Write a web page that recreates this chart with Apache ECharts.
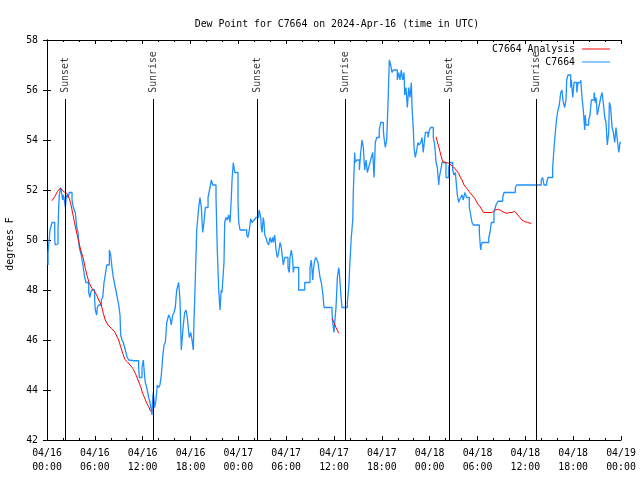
<!DOCTYPE html>
<html><head><meta charset="utf-8">
<script src="https://cdn.jsdelivr.net/npm/echarts@6/dist/echarts.min.js"></script>
<style>html,body{margin:0;padding:0;background:#fff}#c{width:640px;height:480px}</style>
</head><body><div id="c"></div>
<script>
// Hours since 2024-04-16 00:00 UTC
const obsHours = [0.13,0.38,0.63,0.72,0.97,1.04,1.22,1.38,1.47,1.54,1.72,1.88,1.97,2.04,2.13,2.30,2.38,2.47,2.63,2.80,3.14,3.30,3.55,3.73,3.89,4.05,4.30,4.55,4.73,4.89,5.23,5.39,5.48,5.64,5.81,5.98,6.06,6.23,6.31,6.49,6.81,6.99,7.15,7.31,7.49,7.82,7.99,8.15,8.32,8.57,8.82,8.99,9.16,9.24,9.41,9.57,9.82,10.07,10.25,10.41,10.91,11.50,11.58,11.75,11.92,12.08,12.26,12.33,12.51,12.76,12.92,13.08,13.17,13.26,13.33,13.51,13.67,13.84,14.01,14.17,14.34,14.51,14.68,14.84,15.02,15.27,15.43,15.59,15.77,15.93,16.09,16.27,16.52,16.68,16.85,17.02,17.10,17.27,17.44,17.60,17.78,17.85,18.03,18.19,18.35,18.44,18.60,18.78,19.03,19.19,19.36,19.53,19.69,19.86,20.03,20.20,20.45,20.61,20.79,20.95,21.20,21.36,21.54,21.70,21.79,21.86,21.95,22.20,22.29,22.45,22.62,22.79,22.96,23.12,23.21,23.37,23.55,23.80,23.96,24.05,24.21,24.37,25.05,25.21,25.38,25.55,25.72,25.97,26.22,26.56,26.63,26.81,26.88,26.97,27.13,27.22,27.31,27.47,27.63,27.81,27.97,28.14,28.31,28.39,28.56,28.73,28.89,29.06,29.14,29.23,29.39,29.57,29.64,29.82,29.98,30.23,30.39,30.48,30.65,30.82,30.90,30.98,31.15,31.57,31.74,32.33,32.49,32.99,33.15,33.33,33.41,33.58,33.74,33.99,34.16,34.25,34.41,34.58,34.75,35.00,35.75,35.84,36.00,36.09,36.25,36.34,36.42,36.59,36.67,36.84,37.00,37.17,37.67,37.85,38.01,38.17,38.35,38.42,38.60,38.67,38.85,39.18,39.35,39.51,39.68,39.85,40.02,40.18,40.35,40.52,40.68,40.86,41.02,41.18,41.36,41.52,41.68,41.86,42.02,42.19,42.27,42.44,42.61,42.78,42.94,43.11,43.28,43.44,43.62,43.94,44.12,44.28,44.44,44.62,44.78,44.87,45.03,45.20,45.37,45.53,45.70,45.79,45.95,46.04,46.20,46.38,46.54,46.70,46.88,47.04,47.20,47.29,47.46,47.63,47.79,47.96,48.13,48.29,48.46,48.63,48.80,48.96,49.14,49.21,49.39,49.55,49.71,50.05,50.39,50.55,50.89,51.05,51.22,51.47,51.64,51.72,51.90,52.06,52.22,52.40,52.65,52.81,52.97,53.15,53.31,53.48,53.65,54.23,54.32,54.40,54.48,54.57,54.73,55.41,55.57,55.73,56.07,56.16,56.32,56.57,56.66,57.16,57.33,57.49,58.74,58.92,58.99,62.00,62.18,62.34,62.51,62.68,62.84,63.10,63.43,63.60,63.76,63.94,64.10,64.26,64.44,64.60,64.69,64.77,64.94,65.10,65.19,65.35,65.52,65.69,65.77,65.95,66.11,66.27,66.45,66.61,66.77,66.95,67.11,67.27,67.45,67.52,67.61,67.77,67.95,68.11,68.28,68.62,68.78,68.87,69.03,69.21,69.46,69.62,69.78,69.96,70.12,70.28,70.46,70.54,70.71,70.79,70.88,71.04,71.21,71.37,71.54,71.72,71.88,72.0];
const obsDewF = [49.0,49.5,50.4,50.7,50.7,50.0,49.8,49.85,50.4,51.3,51.8,52.1,52.1,51.6,51.8,51.7,51.3,51.6,51.8,51.7,51.9,51.6,51.3,51.1,50.5,50.3,49.7,49.4,48.9,48.5,48.3,47.9,47.7,47.9,48.0,48.0,47.6,47.2,47.0,47.3,47.4,47.6,47.7,48.3,48.6,49.0,49.6,49.4,48.9,48.5,48.1,47.7,47.4,47.0,46.2,46.0,45.9,45.6,45.3,45.2,45.17,45.17,44.9,44.5,44.5,44.9,45.2,44.5,44.3,44.1,43.7,43.5,43.2,43.0,43.7,43.9,43.3,43.6,44.2,44.1,44.2,44.6,45.3,45.8,45.9,46.7,47.0,46.9,46.6,47.0,47.1,47.3,48.0,48.3,47.6,45.6,46.3,46.6,47.1,47.2,46.9,46.3,46.1,46.3,46.0,45.6,46.8,48.4,50.4,51.3,51.7,51.3,50.3,50.7,51.3,51.3,51.7,52.1,52.4,52.2,52.2,51.7,49.6,48.0,47.2,47.7,48.0,47.9,49.1,50.7,50.9,50.8,51.0,50.7,51.7,52.4,53.1,52.7,52.7,51.5,50.7,50.4,50.4,50.2,50.1,50.4,50.85,50.7,50.8,50.9,51.1,51.2,50.9,50.5,50.3,50.9,50.7,50.2,50.1,49.9,49.8,50.1,49.9,50.1,49.9,50.2,49.6,49.3,49.5,49.7,49.9,49.7,49.2,49.0,49.3,49.3,48.9,48.7,49.3,49.6,49.2,48.7,48.9,48.9,48.0,48.0,48.3,48.3,48.9,49.2,48.4,48.8,49.2,49.3,49.1,48.7,48.5,48.3,47.9,47.3,47.3,47.1,46.7,46.3,46.7,47.3,47.9,48.5,48.9,48.7,47.9,47.3,47.3,47.5,48.1,49.2,50.1,50.8,51.9,53.5,53.1,53.2,52.8,53.5,54.0,53.7,52.8,53.2,52.7,52.9,53.1,53.3,53.5,52.5,53.9,54.1,54.1,54.4,54.7,54.7,54.4,54.1,53.7,54.0,55.5,57.2,57.0,56.7,56.8,56.8,56.4,56.7,56.4,56.8,56.4,56.7,55.8,56.1,55.3,56.1,55.7,56.3,55.3,54.4,53.7,53.3,53.6,53.9,53.8,53.9,54.1,53.5,53.8,54.3,54.3,54.1,54.4,54.5,54.5,54.1,53.8,53.1,52.9,52.2,52.5,52.8,53.1,53.1,52.5,52.9,53.1,52.8,52.6,52.7,51.8,51.5,51.6,51.7,51.8,51.6,51.9,51.7,51.7,51.3,51.0,50.7,50.6,50.6,50.3,49.9,49.6,49.8,49.9,49.9,50.1,50.3,50.7,51.1,51.2,51.4,51.55,51.55,51.7,51.9,51.9,52.1,52.2,52.2,52.4,52.5,52.2,52.2,52.3,52.5,52.5,52.9,53.7,54.3,54.9,55.2,55.4,55.9,56.0,55.7,55.5,55.3,55.6,56.4,56.6,56.6,56.1,56.4,55.7,56.3,56.3,55.9,56.3,56.3,56.4,55.7,55.2,54.4,55.0,54.6,54.6,54.8,55.0,55.6,55.9,55.5,55.7,55.0,55.3,55.7,55.9,55.5,54.9,54.7,53.8,54.3,55.5,55.3,54.9,54.5,54.3,53.9,54.5,54.0,53.5,53.9];
// Analysis (null = gap between segments)
const anaHours = [0.63,0.97,1.29,1.63,1.88,2.13,2.47,2.72,2.97,3.22,3.47,3.73,3.98,4.23,4.55,4.80,5.06,5.31,5.64,5.98,6.23,6.49,6.81,7.06,7.31,7.65,8.07,8.49,8.74,8.99,9.24,9.50,9.75,10.07,10.41,10.75,11.08,11.41,11.75,12.00,12.26,12.51,12.76,12.98,
  24.0,
  35.75,36.00,36.25,36.59,
  42.0,
  48.80,48.96,49.14,49.30,49.46,49.64,49.80,50.39,50.55,50.97,51.30,51.64,51.81,52.06,52.31,52.65,52.97,53.31,53.65,53.98,54.32,54.57,54.73,55.82,56.16,56.66,56.99,57.33,57.67,57.99,58.33,58.67,58.92,59.24,59.58,59.92,60.25,60.59,60.75];
const anaDewF = [51.57,51.73,51.93,52.07,52.1,51.93,51.87,51.73,51.47,51.07,50.67,50.27,49.93,49.6,49.27,48.87,48.53,48.27,48.07,47.93,47.8,47.6,47.4,47.07,46.8,46.6,46.47,46.33,46.27,46.0,45.73,45.47,45.23,45.13,45.0,44.87,44.67,44.4,44.13,43.87,43.67,43.47,43.33,43.15,
  null,
  46.85,46.7,46.5,46.27,
  null,
  54.13,53.93,53.73,53.53,53.33,53.13,53.07,53.07,53.0,52.93,52.8,52.67,52.53,52.4,52.2,52.07,51.93,51.8,51.67,51.47,51.33,51.2,51.1,51.1,51.2,51.23,51.17,51.1,51.07,51.1,51.1,51.15,51.07,50.93,50.8,50.73,50.71,50.67,50.67];
const sunHours = [2.30,13.34,26.40,37.40,50.47,61.38];
const sunNames = ['Sunset','Sunrise','Sunset','Sunrise','Sunset','Sunrise'];
const yTicks = {min:42,max:58,step:2};
const xTicks = {min:0,max:72,step:6};

const FONT = 'DejaVu Sans Mono';
const FS = 9.85;
const LINE_TOP = 55.64, LABEL_Y = 55.85;

function fmtX(v){
  const d = 16 + Math.floor(v/24);
  const h = Math.round(v % 24);
  const dd = d < 10 ? '0'+d : ''+d;
  const hh = h < 10 ? '0'+h : ''+h;
  return '04/' + dd + '\n' + hh + ':00';
}
const axisCommon = {
  type:'value', min:xTicks.min, max:xTicks.max, interval:xTicks.step,
  axisLine:{onZero:false, lineStyle:{color:'#000', width:1}},
  axisTick:{inside:true, length:4, lineStyle:{color:'#000'}},
  minorTick:{show:true, splitNumber:3, length:2, lineStyle:{color:'#000'}},
  splitLine:{show:false}
};
const legendCommon = {right:30, align:'right', padding:0, itemWidth:28, itemHeight:1, icon:'rect', itemGap:0,
  textStyle:{fontFamily:FONT, fontSize:FS, color:'#000', padding:[0,2,0,0]}};
const chart = echarts.init(document.getElementById('c'), null, {renderer:'canvas'});
chart.setOption({
  animation:false,
  backgroundColor:'#fff',
  title:{text:'Dew Point for C7664 on 2024-Apr-16 (time in UTC)', left:332, top:14, textAlign:'center',
    textStyle:{fontFamily:FONT, fontSize:FS, fontWeight:'normal', color:'#000'}},
  legend:[
    Object.assign({data:['C7664 Analysis'], top:44}, legendCommon),
    Object.assign({data:['C7664'], top:57}, legendCommon)
  ],
  grid:{left:47, right:19, top:40, bottom:40, containLabel:false, outerBoundsMode:'none'},
  xAxis:[
    Object.assign({}, axisCommon, {position:'bottom',
      axisLabel:{formatter:fmtX, fontFamily:FONT, fontSize:FS, color:'#000', lineHeight:14, margin:6, showMinLabel:true, showMaxLabel:true}}),
    Object.assign({}, axisCommon, {position:'top', axisLabel:{show:false}})
  ],
  yAxis:[
    {type:'value', min:yTicks.min, max:yTicks.max, interval:yTicks.step, position:'left',
      name:'degrees F', nameLocation:'middle', nameGap:31, nameRotate:90,
      nameTextStyle:{fontFamily:FONT, fontSize:FS, color:'#000', padding:[0,8,0,0]},
      axisLine:{show:true, lineStyle:{color:'#000'}},
      axisTick:{inside:true, length:4, lineStyle:{color:'#000'}},
      axisLabel:{fontFamily:FONT, fontSize:FS, color:'#000', margin:9},
      splitLine:{show:false}},
    {type:'value', min:yTicks.min, max:yTicks.max, interval:yTicks.step, position:'right',
      axisLine:{show:true, lineStyle:{color:'#000'}},
      axisTick:{inside:true, length:4, lineStyle:{color:'#000'}},
      axisLabel:{show:false}, splitLine:{show:false}}
  ],
  series:[
    {type:'scatter', name:'sun', symbolSize:0, z:1, silent:true,
      data:sunHours.map((h,i)=>({value:[h, LABEL_Y], name:sunNames[i]})),
      label:{show:true, formatter:p=>p.name, rotate:90, position:'inside', align:'left', verticalAlign:'middle',
        fontFamily:FONT, fontSize:FS, color:'#000', offset:[1,0]},
      markLine:{silent:true, symbol:'none', animation:false, label:{show:false},
        lineStyle:{color:'#000', width:1, type:'solid'},
        data:sunHours.map(h=>[{coord:[h, LINE_TOP]},{coord:[h, yTicks.min]}])}
    },
    {type:'line', name:'C7664', color:'#1e90ff', symbol:'none', showSymbol:false, step:'start', z:3,
      lineStyle:{color:'#1e90ff', width:1.3},
      data:obsHours.map((h,i)=>[h, obsDewF[i]])},
    {type:'line', name:'C7664 Analysis', color:'#ff0000', symbol:'none', showSymbol:false, connectNulls:false, z:4,
      lineStyle:{color:'#ff0000', width:1},
      data:anaHours.map((h,i)=>[h, anaDewF[i]===null ? '-' : anaDewF[i]])}
  ]
});
</script></body></html>
